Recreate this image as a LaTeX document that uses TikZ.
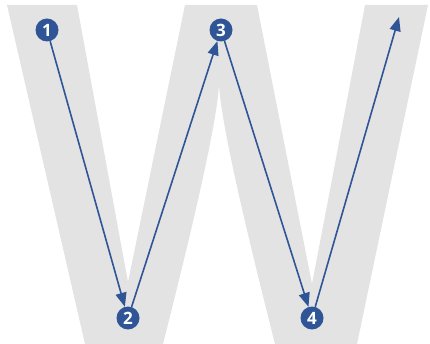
\documentclass[tikz,border=0pt]{standalone}
\usepackage{fontspec}
\setsansfont{Open Sans}
\usetikzlibrary{arrows.meta}
\definecolor{wblue}{RGB}{47,85,151}
\definecolor{wgray}{RGB}{227,227,227}
\begin{document}
\begin{tikzpicture}[x=1pt,y=-1pt,
  num/.style={circle,fill=wblue,text=white,minimum size=23pt,inner sep=0pt,
    font=\sffamily\bfseries\fontsize{17}{17}\selectfont},
  link/.style={wblue,line width=1.6pt,-{Triangle[length=14pt,width=11pt]}}]
\useasboundingbox (0,0) rectangle (430,344);
% the letter W in the background
\fill[wgray] (7,5) -- (77,5) -- (128,282) -- (185,5) -- (257,5) -- (312,284)
  .. controls (330,190) .. (365,5) -- (428,5) -- (357,344) -- (275,344)
  .. controls (241,210) and (221,120) .. (219,85)
  .. controls (217,120) and (197,210) .. (163,344) -- (85,344) -- cycle;
% steps
\node[num] (n1) at (47,30) {1};
\node[num] (n2) at (128,318) {2};
\node[num] (n3) at (221,30) {3};
\node[num] (n4) at (312,318) {4};
\coordinate (end) at (399,17);
\draw[link] (n1) -- (n2);
\draw[link] (n2) -- (n3);
\draw[link] (n3) -- (n4);
\draw[link] (n4) -- (end);
\end{tikzpicture}
\end{document}
